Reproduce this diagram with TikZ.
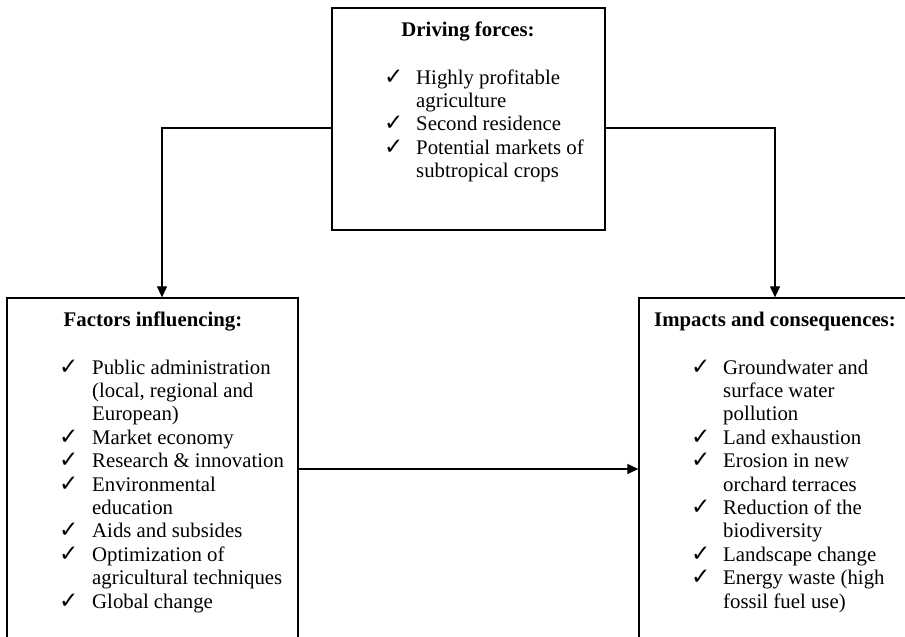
\documentclass[tikz,border=0pt]{standalone}
\usepackage{fontspec}
\setmainfont{Liberation Serif}
\newfontfamily\checkfont{DejaVu Sans}
\usetikzlibrary{arrows.meta}
\newcommand{\ck}{{\checkfont\fontsize{23}{18}\selectfont ✓}}
\begin{document}
\begin{tikzpicture}[x=1pt,y=-1pt,
  box/.style={draw=black,line width=1.3pt,fill=none},
  conn/.style={draw=black,line width=1.2pt,-{Triangle[length=11pt,width=10pt]}},
  title/.style={anchor=base,inner sep=0pt,font=\fontsize{20.8}{23.4}\selectfont\bfseries},
  items/.style={anchor=base west,inner sep=0pt,font=\fontsize{20.8}{23.4}\selectfont}]
\useasboundingbox (0,0) rectangle (905,637);
\clip (0,0) rectangle (905,637);
\fill[white] (0,0) rectangle (905,637);
% boxes
\node[box,minimum width=273pt,minimum height=222pt,inner sep=0pt] (drive) at (468.5,119) {};
\node[box,minimum width=291pt,minimum height=380pt,inner sep=0pt] (factors) at (152.5,488) {};
\node[box,minimum width=291pt,minimum height=380pt,inner sep=0pt] (impacts) at (784.5,488) {};
% texts
\node[title] (t1) at (468,36) {Driving forces:};
\node[items] (l1) at (384,84) {\begin{tabular}[t]{@{}p{32pt}@{}l@{}}
\ck & Highly profitable\\
 & agriculture\\
\ck & Second residence\\
\ck & Potential markets of\\
 & subtropical crops
\end{tabular}};
\node[title] (t2) at (153,326) {Factors influencing:};
\node[items] (l2) at (59,374) {\begin{tabular}[t]{@{}p{33pt}@{}l@{}}
\ck & Public administration\\
 & (local, regional and\\
 & European)\\
\ck & Market economy\\
\ck & Research \& innovation\\
\ck & Environmental\\
 & education\\
\ck & Aids and subsides\\
\ck & Optimization of\\
 & agricultural techniques\\
\ck & Global change
\end{tabular}};
\node[title] (t3) at (775,326) {Impacts and consequences:};
\node[items] (l3) at (691,374) {\begin{tabular}[t]{@{}p{32pt}@{}l@{}}
\ck & Groundwater and\\
 & surface water\\
 & pollution\\
\ck & Land exhaustion\\
\ck & Erosion in new\\
 & orchard terraces\\
\ck & Reduction of the\\
 & biodiversity\\
\ck & Landscape change\\
\ck & Energy waste (high\\
 & fossil fuel use)
\end{tabular}};
% connectors
\coordinate (lc) at (162,128);
\coordinate (rc) at (775,128);
\draw[conn] (drive.west |- lc) -- (lc) -- (lc |- factors.north);
\draw[conn] (drive.east |- rc) -- (rc) -- (rc |- impacts.north);
\draw[conn] (factors.east |- 0,469) -- (impacts.west |- 0,469);
\end{tikzpicture}
\end{document}
